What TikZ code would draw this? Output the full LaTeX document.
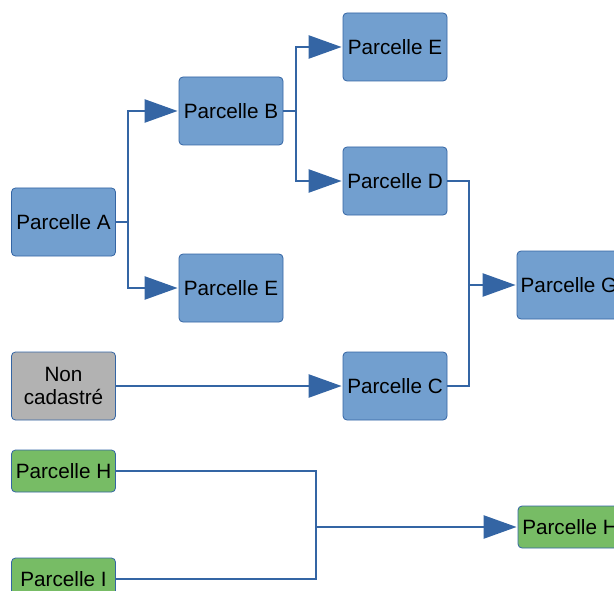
\documentclass[tikz,border=0pt]{standalone}
\usepackage{fontspec}
\setmainfont{Liberation Sans}
\usetikzlibrary{arrows.meta}
\definecolor{boxblue}{HTML}{729FCF}
\definecolor{lineblue}{HTML}{3465A4}
\definecolor{boxgray}{HTML}{B2B2B2}
\definecolor{boxgreen}{HTML}{77BC65}
\tikzset{
  parcel/.style={draw=lineblue, line width=0.8bp, rounded corners=4bp, fill=boxblue,
    minimum width=104bp, minimum height=68bp, inner sep=0pt, align=center,
    font=\fontsize{20.7bp}{23bp}\selectfont, text=black},
  graybox/.style={parcel, fill=boxgray},
  greenbox/.style={parcel, fill=boxgreen, minimum height=42bp},
  link/.style={draw=lineblue, line width=2.4bp},
  arr/.style={link, -{Triangle[length=33bp,width=23bp]}, shorten >=1bp}
}
\begin{document}
\begin{tikzpicture}[x=1bp,y=-1bp]
\useasboundingbox (0,0) rectangle (614,591);
\node[parcel] (A) at (63.5,222) {Parcelle A};
\node[parcel] (B) at (231,111) {Parcelle B};
\node[parcel] (E2) at (231,288) {Parcelle E};
\node[parcel] (E1) at (395,47) {Parcelle E};
\node[parcel] (D) at (395,181) {Parcelle D};
\node[parcel] (C) at (395,386) {Parcelle C};
\node[parcel] (G) at (569,285) {Parcelle G};
\node[graybox] (N) at (63.5,386) {Non\\cadastré};
\node[greenbox] (H) at (63.5,471) {Parcelle H};
\node[greenbox] (I) at (63.5,579) {Parcelle I};
\node[greenbox] (H2) at (570,527) {Parcelle H};
\coordinate (jA) at (128,222);
\coordinate (jB) at (296,111);
\coordinate (jG) at (469,285);
\coordinate (jH) at (316,527);
\draw[link] (A.east) -- (jA);
\draw[arr] (jA) |- (B.west);
\draw[arr] (jA) |- (E2.west);
\draw[link] (B.east) -- (jB);
\draw[arr] (jB) |- (E1.west);
\draw[arr] (jB) |- (D.west);
\draw[link] (D.east) -| (jG);
\draw[link] (C.east) -| (jG);
\draw[arr] (jG) -- (G.west);
\draw[arr] (N.east) -- (C.west);
\draw[link] (H.east) -| (jH);
\draw[link] (I.east) -| (jH);
\draw[arr] (jH) -- (H2.west);
\end{tikzpicture}
\end{document}
